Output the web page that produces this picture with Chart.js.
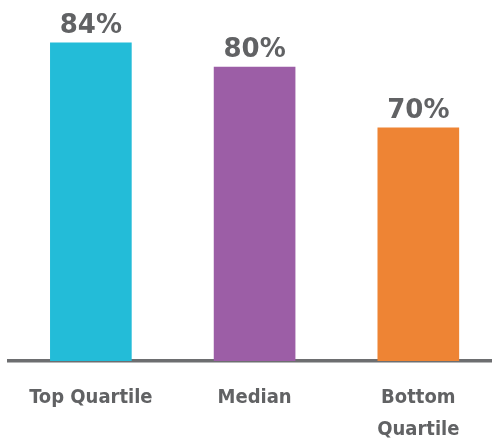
<!DOCTYPE html>
<html lang="en">
<head>
    <meta charset="UTF-8">
    <title>Quartile chart</title>
    <style>
        html, body { margin: 0; padding: 0; background: #fff; overflow: hidden; }
        #wrap { width: 492px; height: 441px; }
    </style>
</head>
<body>
    <div id="wrap"><canvas id="chart"></canvas></div>

    <script src="https://cdn.jsdelivr.net/npm/chart.js"></script>
    <script>
        // data
        var categories = ['Top Quartile', 'Median', ['Bottom', 'Quartile']];
        var values = [84, 80, 70];
        var barColors = ['#23bcd8', '#9c5ea6', '#ee8434'];

        var points = values.map(function (v, i) { return { x: i, y: v }; });

        // draws "84%" etc above each bar
        var valueLabels = {
            id: 'valueLabels',
            afterDatasetsDraw: function (chart) {
                var ctx = chart.ctx;
                var meta = chart.getDatasetMeta(0);
                ctx.save();
                ctx.font = 'bold 26px "DejaVu Sans", sans-serif';
                ctx.fillStyle = '#616264';
                ctx.textAlign = 'center';
                ctx.textBaseline = 'alphabetic';
                meta.data.forEach(function (bar, i) {
                    ctx.fillText(values[i] + '%', bar.x, bar.y - 10);
                });
                ctx.restore();
            }
        };

        new Chart(document.getElementById('chart'), {
            type: 'bar',
            data: {
                datasets: [{
                    data: points,
                    backgroundColor: barColors,
                    barThickness: 81,
                    borderWidth: 0
                }]
            },
            options: {
                responsive: true,
                maintainAspectRatio: false,
                animation: false,
                layout: { padding: { top: 5, left: 9, right: 0, bottom: 0 } },
                plugins: { legend: { display: false }, tooltip: { enabled: false } },
                scales: {
                    x: {
                        type: 'linear',
                        offset: false,
                        min: -0.5,
                        max: 2.45,
                        grid: { display: false, drawTicks: false, offset: false },
                        border: { display: true, color: '#6d6e70', width: 3.5 },
                        afterBuildTicks: function (scale) {
                            scale.ticks = categories.map(function (c, i) { return { value: i }; });
                        },
                        // fixed axis height so the baseline sits where the original has it
                        afterFit: function (scale) { scale.height = 80; },
                        ticks: {
                            autoSkip: false,
                            maxRotation: 0,
                            padding: 21,
                            color: '#616264',
                            font: { family: '"DejaVu Sans Condensed", sans-serif', weight: 'bold', size: 20, lineHeight: '32px' },
                            callback: function (value) { return categories[value]; }
                        }
                    },
                    y: {
                        display: false,
                        min: 31.7,
                        max: 90.2
                    }
                }
            },
            plugins: [valueLabels]
        });
    </script>
</body>
</html>
